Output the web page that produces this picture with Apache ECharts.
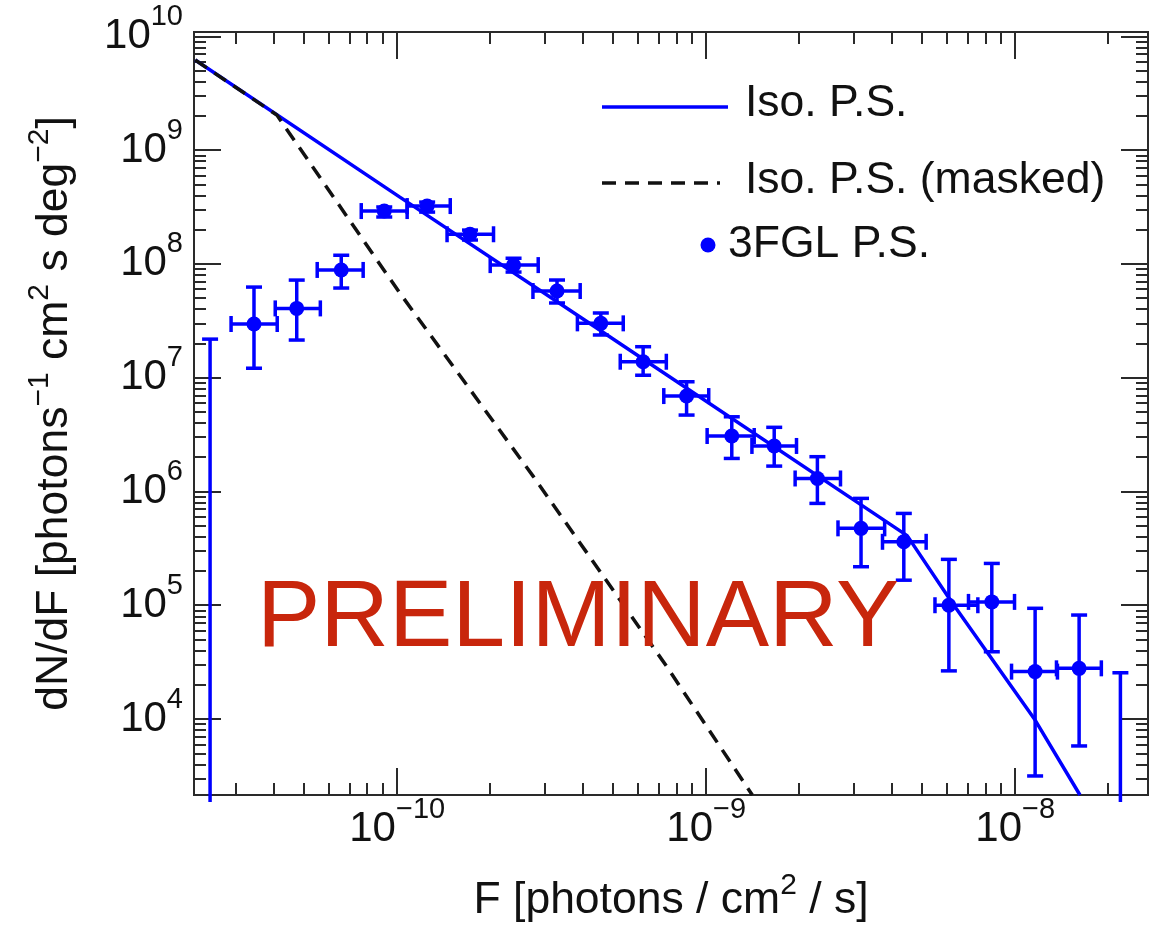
<!DOCTYPE html>
<html>
<head>
<meta charset="utf-8">
<script src="https://cdn.jsdelivr.net/npm/echarts@6/dist/echarts.min.js"></script>
<style>
  html, body { margin: 0; padding: 0; background: #ffffff; }
  #chart { width: 1165px; height: 928px; }
</style>
</head>
<body>
<div id="chart"></div>
<script>
// Binned 3FGL point sources: flux bin centre, horizontal bin extent,
// dN/dF value and its lower / upper uncertainty (0 = empty bin, upper limit only)
const binFlux       = [2.48e-11, 3.44e-11, 4.73e-11, 6.59e-11, 9.08e-11, 1.25e-10, 1.72e-10, 2.38e-10, 3.29e-10, 4.56e-10, 6.25e-10,
                       8.64e-10, 1.21e-9, 1.66e-9, 2.29e-9, 3.17e-9, 4.36e-9, 6.10e-9, 8.40e-9, 1.16e-8, 1.61e-8, 2.19e-8];
const binFluxLow    = [2.11e-11, 2.90e-11, 4.03e-11, 5.51e-11, 7.65e-11, 1.077e-10, 1.45e-10, 2.00e-10, 2.75e-10, 3.83e-10, 5.27e-10,
                       7.29e-10, 1.007e-9, 1.406e-9, 1.94e-9, 2.67e-9, 3.72e-9, 5.50e-9, 7.06e-9, 9.73e-9, 1.36e-8, 1.88e-8];
const binFluxHigh   = [2.90e-11, 4.09e-11, 5.64e-11, 7.76e-11, 1.077e-10, 1.485e-10, 2.05e-10, 2.86e-10, 3.91e-10, 5.39e-10, 7.43e-10,
                       1.019e-9, 1.43e-9, 1.96e-9, 2.72e-9, 3.78e-9, 5.15e-9, 7.57e-9, 9.95e-9, 1.37e-8, 1.90e-8, 2.57e-8];
const binCounts     = [0, 2.96e7, 4.06e7, 8.84e7, 2.91e8, 3.22e8, 1.82e8, 9.75e7, 5.77e7, 3.00e7, 1.38e7,
                       6.89e6, 3.07e6, 2.51e6, 1.30e6, 4.74e5, 3.61e5, 1.00e5, 1.07e5, 2.61e4, 2.79e4, 0];
const binCountsLow  = [0, 1.21e7, 2.14e7, 6.13e7, 2.58e8, 2.85e8, 1.62e8, 8.47e7, 4.53e7, 2.37e7, 1.05e7,
                       4.69e6, 1.95e6, 1.67e6, 7.85e5, 2.18e5, 1.66e5, 2.65e4, 3.90e4, 3.16e3, 5.80e3, 0];
const binCountsHigh = [2.18e7, 6.25e7, 7.20e7, 1.19e8, 3.16e8, 3.49e8, 1.98e8, 1.12e8, 7.21e7, 3.70e7, 1.87e7,
                       9.20e6, 4.53e6, 3.66e6, 2.02e6, 8.69e5, 6.41e5, 2.53e5, 2.33e5, 9.40e4, 8.20e4, 2.55e4];

// Isotropic point-source model, full sky and with the source mask applied
const isoFlux      = [2.22e-11, 1.02e-10, 4.52e-10, 4.47e-9, 6.25e-9, 1.16e-8, 1.62e-8];
const isoCounts    = [6.18e9, 3.86e8, 2.62e7, 4.09e5, 1.05e5, 9.80e3, 2.15e3];
const maskedFlux   = [2.22e-11, 4.08e-11, 1.02e-10, 2.76e-10, 7.46e-10, 1.41e-9];
const maskedCounts = [6.18e9, 2.03e9, 5.53e7, 1.35e6, 2.88e4, 2.15e3];

// Axis ranges and labelled decades (exponents of ten)
const fluxRange  = [2.2e-11, 2.69e-8];
const countRange = [2.15e3, 1.09e10];
const xDecades   = [-10, -9, -8];
const yDecades   = [4, 5, 6, 7, 8, 9, 10];

const legendNames = ['Iso. P.S.', 'Iso. P.S. (masked)', '3FGL P.S.'];

const BLUE = '#0000ff';
const FRAME = '#2a2a2a';
const FONT = '"Liberation Sans", Arial, Helvetica, sans-serif';
const lg = Math.log10;

const xMin = lg(fluxRange[0]), xMax = lg(fluxRange[1]);
const yMin = lg(countRange[0]), yMax = lg(countRange[1]);

// minor ticks at 2..9 x 10^n inside the axis range
function minorTicks(lo, hi) {
  const out = [];
  for (let d = Math.floor(lo); d < Math.ceil(hi); d++) {
    for (let k = 2; k <= 9; k++) {
      const v = d + lg(k);
      if (v > lo && v < hi) out.push(v);
    }
  }
  return out;
}

const xMinor = minorTicks(xMin, xMax);
const yMinor = minorTicks(yMin, yMax);

const tickRich = {
  b: { fontFamily: FONT, fontSize: 42, color: '#111', lineHeight: 68 },
  s: { fontFamily: FONT, fontSize: 29, color: '#111', verticalAlign: 'top' }
};
const titleRich = {
  t: { fontFamily: FONT, fontSize: 44.5, color: '#111', lineHeight: 60 },
  s: { fontFamily: FONT, fontSize: 30, color: '#111', verticalAlign: 'top' }
};

function makeAxis(dim, position, ticks, len, extra) {
  const isX = dim === 'x';
  return Object.assign({
    type: 'value',
    gridIndex: 0,
    position: position,
    min: isX ? xMin : yMin,
    max: isX ? xMax : yMax,
    axisLine: { show: false, onZero: false },
    splitLine: { show: false },
    axisTick: { show: true, inside: true, length: len, customValues: ticks,
                lineStyle: { color: FRAME, width: 2 } },
    axisLabel: { show: false }
  }, extra || {});
}

const xAxes = [
  makeAxis('x', 'bottom', xDecades, 27, {
    name: '{t|F [photons / cm}{s|2}{t| / s]}',
    nameLocation: 'middle',
    nameGap: 76,
    nameTextStyle: { rich: titleRich },
    axisLabel: {
      show: true, customValues: xDecades, margin: 0,
      formatter: v => '{b|10}{s|\u2212' + Math.round(-v) + '}',
      rich: tickRich
    }
  }),
  makeAxis('x', 'bottom', xMinor, 12),
  makeAxis('x', 'top', xDecades, 27),
  makeAxis('x', 'top', xMinor, 12)
];

const yAxes = [
  makeAxis('y', 'left', yDecades, 27, {
    name: '{t|dN/dF [photons}{s|\u22121}{t| cm}{s|2}{t| s deg}{s|\u22122}{t|]}',
    nameLocation: 'middle',
    nameRotate: 90,
    nameGap: 109,
    nameTextStyle: { rich: titleRich },
    axisLabel: {
      show: true, customValues: yDecades, margin: 11,
      formatter: v => '{b|10}{s|' + Math.round(v) + '}',
      rich: tickRich
    }
  }),
  makeAxis('y', 'left', yMinor, 12),
  makeAxis('y', 'right', yDecades, 27),
  makeAxis('y', 'right', yMinor, 12)
];

// error-bar points: [logF, logN, logFlow, logFhigh, logNlow, logNhigh]
const binData = binFlux.map((f, i) => [
  lg(f),
  binCounts[i] > 0 ? lg(binCounts[i]) : NaN,
  lg(binFluxLow[i]),
  lg(binFluxHigh[i]),
  binCountsLow[i] > 0 ? lg(binCountsLow[i]) : NaN,
  lg(binCountsHigh[i])
]);

function renderBin(params, api) {
  const lx = api.value(0), ly = api.value(1);
  const lxl = api.value(2), lxh = api.value(3);
  const lyl = api.value(4), lyh = api.value(5);
  const cs = params.coordSys;
  const style = { stroke: BLUE, lineWidth: 3.5, fill: null };
  const cap = 8;
  const kids = [];
  const top = api.coord([lx, lyh]);
  const seg = (x1, y1, x2, y2) => kids.push({ type: 'line', shape: { x1, y1, x2, y2 }, style });

  if (!isFinite(ly)) {
    // empty bin: upper limit bar rising from below the frame
    const bottom = cs.y + cs.height + 7;
    seg(top[0], bottom, top[0], top[1]);
    seg(top[0] - cap, top[1], top[0] + cap, top[1]);
    return { type: 'group', children: kids };
  }
  const c = api.coord([lx, ly]);
  const lo = api.coord([lx, lyl]);
  const l = api.coord([lxl, ly]);
  const r = api.coord([lxh, ly]);
  seg(c[0], top[1], c[0], lo[1]);
  seg(c[0] - cap, top[1], c[0] + cap, top[1]);
  seg(c[0] - cap, lo[1], c[0] + cap, lo[1]);
  seg(l[0], c[1], r[0], c[1]);
  seg(l[0], c[1] - cap, l[0], c[1] + cap);
  seg(r[0], c[1] - cap, r[0], c[1] + cap);
  kids.push({ type: 'circle', shape: { cx: c[0], cy: c[1], r: 7.5 }, style: { fill: BLUE } });
  return { type: 'group', children: kids };
}

const chart = echarts.init(document.getElementById('chart'), null, { renderer: 'canvas' });

chart.setOption({
  animation: false,
  backgroundColor: '#ffffff',
  grid: {
    left: 194, right: 17, top: 32, bottom: 133,
    show: true, borderColor: FRAME, borderWidth: 2,
    backgroundColor: 'transparent',
    containLabel: false, outerBoundsMode: 'none'
  },
  xAxis: xAxes,
  yAxis: yAxes,
  series: [
    {
      name: legendNames[0],
      type: 'line',
      xAxisIndex: 0, yAxisIndex: 0,
      data: isoFlux.map((f, i) => [lg(f), lg(isoCounts[i])]),
      showSymbol: false, symbol: 'none',
      lineStyle: { color: BLUE, width: 3.5 },
      clip: true, z: 3
    },
    {
      name: legendNames[1],
      type: 'line',
      xAxisIndex: 0, yAxisIndex: 0,
      data: maskedFlux.map((f, i) => [lg(f), lg(maskedCounts[i])]),
      showSymbol: false, symbol: 'none',
      lineStyle: { color: '#111111', width: 3.5, type: [14, 9] },
      clip: true, z: 4
    },
    {
      name: legendNames[2],
      type: 'custom',
      xAxisIndex: 0, yAxisIndex: 0,
      renderItem: renderBin,
      encode: { x: 0, y: 1 },
      data: binData,
      z: 5
    }
  ],
  graphic: [
    { type: 'line', shape: { x1: 602, y1: 107, x2: 728, y2: 107 }, style: { stroke: BLUE, lineWidth: 3.5 } },
    { type: 'text', x: 745, y: 104, style: { text: legendNames[0], font: '44.5px ' + FONT, fill: '#111', verticalAlign: 'middle' } },
    { type: 'line', shape: { x1: 602, y1: 183, x2: 720, y2: 183 }, style: { stroke: '#111', lineWidth: 3.5, lineDash: [14, 9] } },
    { type: 'text', x: 745, y: 181, style: { text: legendNames[1], font: '44.5px ' + FONT, fill: '#111', verticalAlign: 'middle' } },
    { type: 'circle', shape: { cx: 708, cy: 245, r: 7.5 }, style: { fill: BLUE } },
    { type: 'text', x: 728, y: 245, style: { text: legendNames[2], font: '44.5px ' + FONT, fill: '#111', verticalAlign: 'middle' } },
    { type: 'text', x: 257, y: 620, z: 10,
      style: { text: 'PRELIMINARY', font: '95px ' + FONT, fill: '#c8260c', verticalAlign: 'middle' } }
  ]
});
</script>
</body>
</html>
